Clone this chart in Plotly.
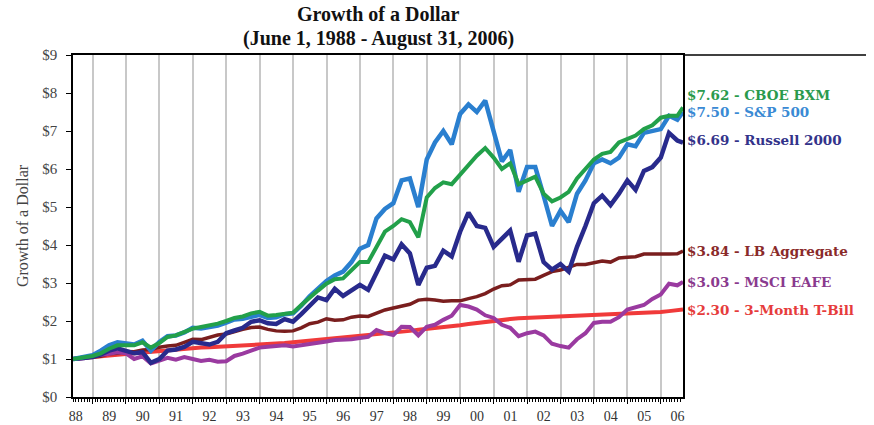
import plotly.graph_objects as go

# ---- data -------------------------------------------------------------
start_date = "1988-06-01"
end_date = "2006-08-31"
quarter_ends = []
for yr in range(1988, 2007):
    for mo, dy in [(3, 31), (6, 30), (9, 30), (12, 31)]:
        d = f"{yr}-{mo:02d}-{dy:02d}"
        if "1988-09-30" <= d <= "2006-06-30":
            quarter_ends.append(d)
dates = [start_date] + quarter_ends + [end_date]

tbill = [1.00, 1.02,
         1.04, 1.06, 1.09, 1.11,
         1.13, 1.15, 1.17, 1.20,
         1.22, 1.24, 1.26, 1.27,
         1.29, 1.30, 1.31, 1.32,
         1.33, 1.34, 1.35, 1.36,
         1.37, 1.38, 1.40, 1.42,
         1.44, 1.46, 1.48, 1.50,
         1.52, 1.54, 1.56, 1.58,
         1.60, 1.62, 1.65, 1.67,
         1.69, 1.72, 1.74, 1.77,
         1.79, 1.82, 1.84, 1.87,
         1.89, 1.92, 1.95, 1.98,
         2.01, 2.03, 2.05, 2.07,
         2.08, 2.09, 2.10, 2.11,
         2.12, 2.12, 2.13, 2.14,
         2.14, 2.15, 2.16, 2.17,
         2.18, 2.19, 2.21, 2.23,
         2.24, 2.26, 2.28,
         2.30]

lb_agg = [1.00, 1.04,
          1.05, 1.07, 1.14, 1.15,
          1.20, 1.19, 1.24, 1.25,
          1.31, 1.34, 1.36, 1.44,
          1.52, 1.51, 1.58, 1.63,
          1.66, 1.73, 1.78, 1.83,
          1.84, 1.78, 1.74, 1.73,
          1.74, 1.82, 1.93, 1.97,
          2.06, 2.02, 2.03, 2.10,
          2.13, 2.12, 2.20, 2.29,
          2.34, 2.38, 2.44, 2.55,
          2.57, 2.55, 2.52, 2.53,
          2.53, 2.59, 2.64, 2.72,
          2.84, 2.93, 2.95, 3.08,
          3.08, 3.10, 3.20, 3.30,
          3.34, 3.42, 3.49, 3.49,
          3.53, 3.58, 3.55, 3.66,
          3.68, 3.69, 3.76, 3.75,
          3.76, 3.76, 3.77,
          3.84]

eafe = [1.00, 1.02,
        1.08, 1.10, 1.14, 1.18,
        1.15, 1.00, 1.07, 0.88,
        0.95, 1.03, 0.98, 1.05,
        1.00, 0.95, 0.98, 0.93,
        0.94, 1.08, 1.14, 1.22,
        1.30, 1.32, 1.34, 1.36,
        1.33, 1.36, 1.38, 1.42,
        1.46, 1.50, 1.50, 1.52,
        1.55, 1.58, 1.76, 1.68,
        1.63, 1.85, 1.84, 1.62,
        1.85, 1.90, 2.03, 2.14,
        2.42, 2.38, 2.30, 2.15,
        2.08, 1.90, 1.82, 1.60,
        1.68, 1.72, 1.62, 1.40,
        1.34, 1.30, 1.52, 1.68,
        1.95, 1.98, 1.98, 2.10,
        2.30, 2.36, 2.42, 2.58,
        2.70, 2.98, 2.94,
        3.03]

russell = [1.00, 1.03,
           1.05, 1.12, 1.22, 1.28,
           1.20, 1.15, 1.18, 0.90,
           1.00, 1.22, 1.25, 1.32,
           1.45, 1.40, 1.38, 1.45,
           1.68, 1.75, 1.82, 1.98,
           2.02, 1.94, 1.92, 2.05,
           1.98, 2.18, 2.42, 2.62,
           2.55, 2.85, 2.66, 2.82,
           2.95, 2.82, 3.30, 3.72,
           3.62, 4.02, 3.78, 2.95,
           3.40, 3.45, 3.85, 3.70,
           4.35, 4.85, 4.50, 4.45,
           3.95, 4.15, 4.38, 3.56,
           4.25, 4.30, 3.55, 3.35,
           3.50, 3.30, 3.95, 4.50,
           5.10, 5.30, 5.05, 5.35,
           5.70, 5.45, 5.95, 6.05,
           6.30, 6.95, 6.75,
           6.69]

sp500 = [1.00, 1.04,
         1.10, 1.22, 1.36, 1.44,
         1.40, 1.38, 1.48, 1.22,
         1.45, 1.60, 1.62, 1.70,
         1.82, 1.80, 1.84, 1.88,
         1.96, 2.04, 2.06, 2.12,
         2.16, 2.08, 2.10, 2.18,
         2.20, 2.40, 2.65, 2.85,
         3.05, 3.20, 3.30, 3.55,
         3.90, 4.00, 4.70, 4.95,
         5.10, 5.70, 5.75, 5.00,
         6.25, 6.70, 7.00, 6.65,
         7.45, 7.70, 7.50, 7.80,
         7.00, 6.20, 6.50, 5.40,
         6.05, 6.05, 5.30, 4.50,
         4.90, 4.60, 5.35, 5.70,
         6.15, 6.25, 6.15, 6.30,
         6.65, 6.60, 6.95, 7.00,
         7.05, 7.40, 7.30,
         7.50]

bxm = [1.00, 1.05,
       1.08, 1.15, 1.27, 1.36,
       1.35, 1.36, 1.44, 1.30,
       1.42, 1.58, 1.62, 1.70,
       1.80, 1.84, 1.88, 1.93,
       2.00, 2.08, 2.12, 2.20,
       2.24, 2.14, 2.16, 2.20,
       2.22, 2.42, 2.62, 2.80,
       2.98, 3.10, 3.12, 3.35,
       3.55, 3.55, 3.95, 4.35,
       4.50, 4.68, 4.60, 4.20,
       5.25, 5.50, 5.65, 5.60,
       5.85, 6.10, 6.35, 6.55,
       6.30, 6.00, 6.15, 5.60,
       5.70, 5.80, 5.35, 5.15,
       5.25, 5.40, 5.75, 6.00,
       6.25, 6.40, 6.45, 6.70,
       6.80, 6.88, 7.05, 7.15,
       7.35, 7.40, 7.40,
       7.62]

title_lines = ["Growth of a Dollar", "(June 1, 1988 - August 31, 2006)"]

# ---- styling ----------------------------------------------------------
SERIF = "Liberation Serif, Times New Roman, serif"
LABEL_FONT = "DejaVu Serif, serif"
series = [
    # name, values, line colour, width, label colour, label y-shift (px)
    ("3-Month T-Bill", tbill, "#f03a3a", 4.0, "#e63c3c", 0),
    ("LB Aggregate", lb_agg, "#7a1e1e", 3.5, "#8a2a2a", 0),
    ("MSCI EAFE", eafe, "#9a3aa0", 4.0, "#8a3a8e", 0),
    ("Russell 2000", russell, "#282a8c", 4.5, "#33338a", 3),
    ("S&P 500", sp500, "#2a7fcf", 4.5, "#3a8ad4", 0),
    ("CBOE BXM", bxm, "#22a04a", 4.0, "#2a9a4c", 12),
]

fig = go.Figure()
for name, vals, col, w, lcol, ysh in series:
    fig.add_trace(go.Scatter(x=dates, y=vals, mode="lines", name=name,
                             line=dict(color=col, width=w), showlegend=False))
    fig.add_annotation(x=dates[-1], y=vals[-1], xref="x", yref="y",
                       text=f"${vals[-1]:.2f} - {name}", showarrow=False,
                       xanchor="left", yanchor="middle", xshift=2, yshift=ysh,
                       font=dict(family=LABEL_FONT, size=13.5, color=lcol, weight="bold"))

# two-line title, centred over the plot area
for line_text, shift in zip(title_lines, [41, 17]):
    fig.add_annotation(x=0.5, y=1, xref="paper", yref="paper", text=line_text,
                       showarrow=False, xanchor="center", yanchor="middle",
                       yshift=shift,
                       font=dict(family=SERIF, size=20, color="#111", weight="bold"))

fig.update_layout(
    width=874, height=425,
    margin=dict(l=73, r=191, t=55, b=28),
    paper_bgcolor="white", plot_bgcolor="white",
    xaxis=dict(type="date", range=[start_date, end_date], automargin=False,
               tick0="1989-01-01", dtick="M12", ticklabelmode="period",
               tickformat="%y", showgrid=True, gridcolor="#c8c8c8", gridwidth=1.5,
               ticks="outside", ticklen=5, tickcolor="black", tickwidth=1,
               showline=True, linecolor="black", linewidth=1.5, mirror=True,
               minor=dict(dtick="M1", tick0="1989-01-01", ticks="outside",
                          ticklen=3, tickcolor="black", showgrid=False),
               tickfont=dict(family=SERIF, size=14, color="#333")),
    yaxis=dict(range=[0, 9], dtick=1, tickprefix="$", tickformat="d",
               automargin=False,
               ticks="outside", ticklen=5, tickcolor="black",
               ticklabelstandoff=6,
               showgrid=False, zeroline=False,
               showline=True, linecolor="black", linewidth=1.5, mirror=True,
               tickfont=dict(family=SERIF, size=15, color="#444"),
               title=dict(text="Growth of a Dollar", standoff=10,
                          font=dict(family=SERIF, size=16, color="#444"))),
)
# top border running across the label area
fig.add_shape(type="line", xref="paper", yref="paper", x0=1, x1=1.3, y0=1, y1=1,
              line=dict(color="black", width=1.5))

fig.write_html("out.html")
